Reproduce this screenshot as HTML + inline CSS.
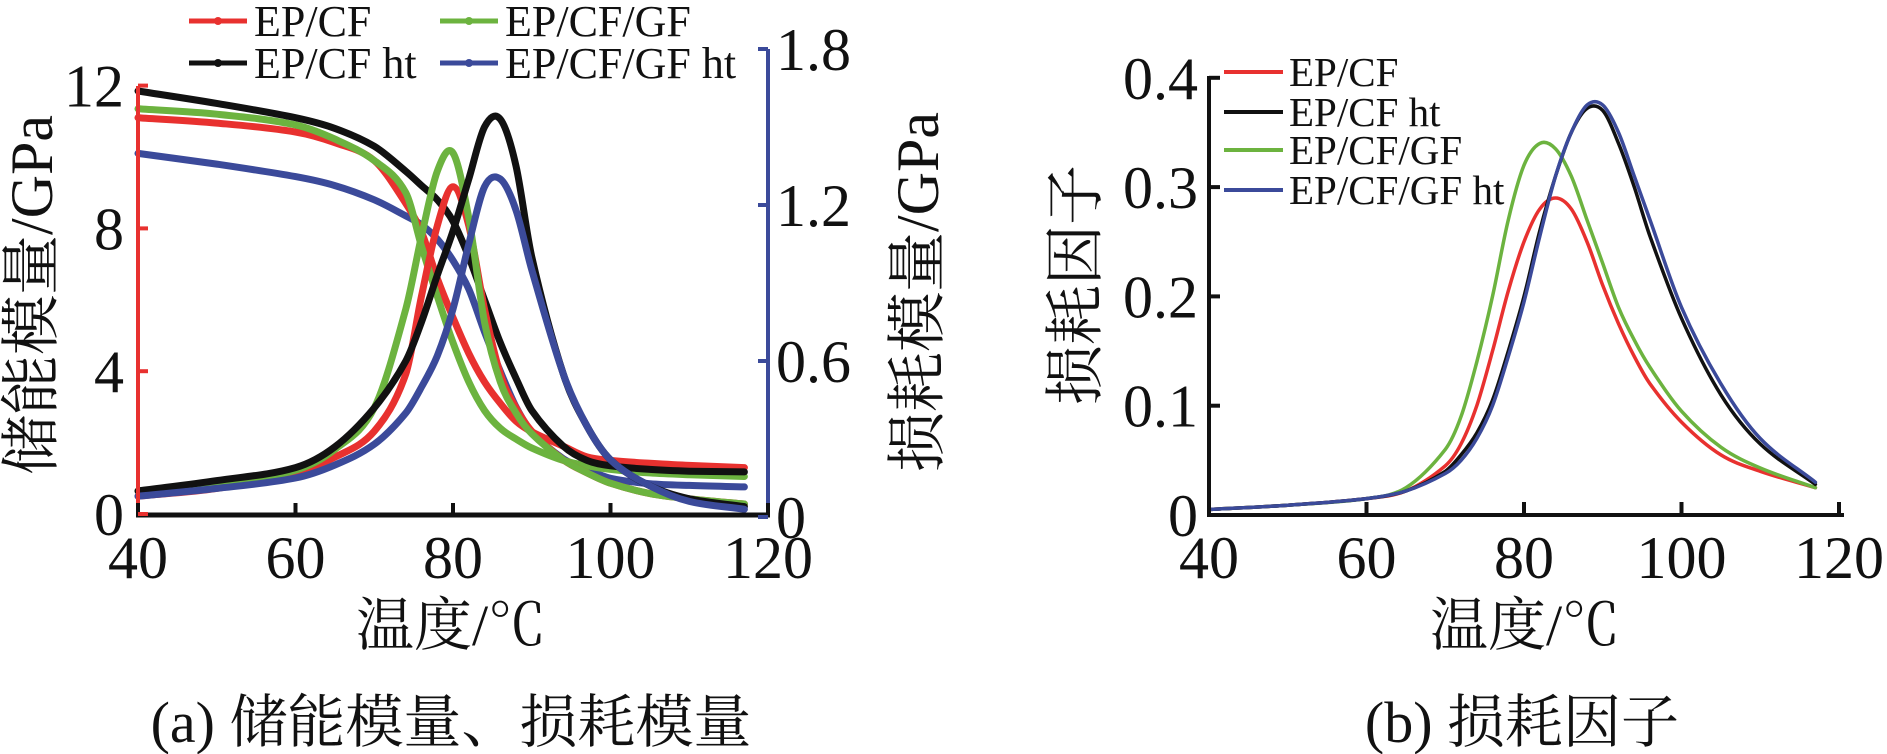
<!DOCTYPE html>
<html><head><meta charset="utf-8">
<style>
html,body{margin:0;padding:0;background:#fff;}
svg{display:block;}
text{font-family:"Liberation Serif","Noto Serif CJK SC",serif;fill:#111;}
</style></head>
<body>
<svg id="chart" width="1887" height="754" viewBox="0 0 1887 754" xmlns="http://www.w3.org/2000/svg"></svg>
<script>
// ---- data ----
const temps = [40,50,60,65,70,74,76,78,80,82,84,86,88,90,94,97,100,105,110,117];
const storageRed   = [11.1,10.95,10.7,10.4,9.9,8.7,7.9,6.6,5.5,4.5,3.7,3.1,2.6,2.3,1.9,1.6,1.5,1.42,1.36,1.3];
const storageGreen = [11.35,11.2,10.9,10.5,9.9,9.0,7.5,6.1,4.8,3.7,2.9,2.4,2.1,1.85,1.5,1.35,1.25,1.15,1.1,1.05];
const storageBlack = [11.85,11.5,11.1,10.8,10.3,9.6,9.2,8.8,8.2,7.2,6.0,4.8,3.8,2.9,1.9,1.5,1.35,1.25,1.2,1.18];
const storageBlue  = [10.1,9.8,9.45,9.2,8.8,8.35,8.1,7.7,7.1,6.3,5.1,4.0,3.0,2.3,1.55,1.25,1.0,0.85,0.8,0.76];
const lossRed   = [0.08,0.11,0.17,0.23,0.33,0.55,0.85,1.12,1.27,1.12,0.8,0.55,0.42,0.33,0.22,0.17,0.13,0.09,0.07,0.05];
const lossGreen = [0.10,0.13,0.18,0.26,0.42,0.8,1.08,1.33,1.40,1.15,0.75,0.52,0.4,0.32,0.22,0.17,0.13,0.09,0.07,0.05];
const lossBlack = [0.10,0.14,0.19,0.27,0.42,0.6,0.75,0.93,1.1,1.3,1.5,1.53,1.35,1.0,0.55,0.35,0.22,0.12,0.07,0.04];
const lossBlue  = [0.08,0.11,0.15,0.2,0.28,0.4,0.5,0.62,0.8,1.05,1.27,1.3,1.18,0.95,0.55,0.35,0.22,0.12,0.06,0.03];
const tanTemps = [40,50,60,65,70,72,74,76,78,80,82,84,86,88,90,92,94,96,100,105,110,117];
const tanRed   = [0.005,0.009,0.015,0.022,0.045,0.065,0.10,0.15,0.205,0.25,0.28,0.29,0.28,0.25,0.21,0.175,0.145,0.12,0.085,0.055,0.04,0.025];
const tanBlack = [0.005,0.009,0.015,0.022,0.04,0.055,0.075,0.105,0.15,0.2,0.26,0.31,0.35,0.372,0.37,0.34,0.3,0.255,0.18,0.11,0.065,0.028];
const tanGreen = [0.005,0.009,0.015,0.025,0.06,0.09,0.14,0.2,0.27,0.32,0.34,0.335,0.31,0.27,0.23,0.19,0.16,0.135,0.095,0.062,0.043,0.025];
const tanBlue  = [0.005,0.009,0.015,0.022,0.038,0.05,0.07,0.1,0.145,0.195,0.255,0.31,0.35,0.375,0.375,0.35,0.31,0.27,0.19,0.12,0.07,0.03];
const xTicks = [40,60,80,100,120];
const leftTicks = [0,4,8,12];
const rightTicks = [0,0.6,1.2,1.8];
const rightTickLabels = ["0","0.6","1.2","1.8"];
const tanTicks = [0,0.1,0.2,0.3,0.4];
const tanTickLabels = ["0","0.1","0.2","0.3","0.4"];
const seriesNames = ["EP/CF","EP/CF ht","EP/CF/GF","EP/CF/GF ht"];
const C = {red:"#e8312f",black:"#111111",green:"#6cb33f",blue:"#3b4a9a"};

// ---- axes ----
const xA = t => 138 + (t-40)*7.875;
const yL = v => 514 - v*35.7;
const yR = v => 517 - v*260;
const xB = t => 1209 + (t-40)*7.875;
const yB = v => 515 - v*1093;

const svg = document.getElementById('chart');
const NS = "http://www.w3.org/2000/svg";
const FONT = '"Liberation Serif","Noto Serif CJK SC",serif';
function mk(tag, attrs, parent){const e=document.createElementNS(NS,tag);for(const k in attrs)e.setAttribute(k,attrs[k]);(parent||svg).appendChild(e);return e;}
function smooth(pts){
 const n=pts.length, m=[];
 for(let i=0;i<n;i++){const a=pts[Math.max(0,i-1)],b=pts[Math.min(n-1,i+1)];m.push((b[1]-a[1])/(b[0]-a[0]));}
 let d=`M${pts[0][0].toFixed(1)},${pts[0][1].toFixed(1)}`;
 for(let i=0;i<n-1;i++){const p1=pts[i],p2=pts[i+1],dx=(p2[0]-p1[0])/3;
  d+=` C${(p1[0]+dx).toFixed(1)},${(p1[1]+m[i]*dx).toFixed(1)} ${(p2[0]-dx).toFixed(1)},${(p2[1]-m[i+1]*dx).toFixed(1)} ${p2[0].toFixed(1)},${p2[1].toFixed(1)}`;}
 return d;}
function line(xs,vals,fx,fy,color,w,name){const p=mk('path',{d:smooth(xs.map((t,i)=>[fx(t),fy(vals[i])])),fill:'none',stroke:color,'stroke-width':w,'stroke-linejoin':'round','stroke-linecap':'round'});
 
 }
function txt(x,y,s,size,anchor,name,extra){const t=mk('text',Object.assign({x:x,y:y,'font-size':size,'text-anchor':anchor||'start','font-family':FONT},extra||{}));t.textContent=s;
 
 return t;}

// ---- panel (a) ----
[[storageBlue,C.blue,'storage-ep-cf-gf-ht'],[storageRed,C.red,'storage-ep-cf'],[storageGreen,C.green,'storage-ep-cf-gf'],[storageBlack,C.black,'storage-ep-cf-ht']]
 .forEach(s=>line(temps,s[0],xA,yL,s[1],7,s[2]));
[[lossRed,C.red,'loss-ep-cf'],[lossGreen,C.green,'loss-ep-cf-gf'],[lossBlack,C.black,'loss-ep-cf-ht'],[lossBlue,C.blue,'loss-ep-cf-gf-ht']]
 .forEach(s=>line(temps,s[0],xA,yR,s[1],7,s[2]));

let e;
e=mk('line',{x1:138,y1:86,x2:138,y2:515,stroke:C.red,'stroke-width':4});


e=mk('line',{x1:768,y1:49,x2:768,y2:517,stroke:C.blue,'stroke-width':4});


e=mk('line',{x1:136,y1:515,x2:770,y2:515,stroke:'#111','stroke-width':5});


xTicks.forEach(t=>{const l=mk('line',{x1:xA(t),y1:515,x2:xA(t),y2:503,stroke:'#111','stroke-width':4});
 
 
 txt(xA(t),578,String(t),60,'middle','x-tick-label-a');});
leftTicks.forEach(v=>{const l=mk('line',{x1:138,y1:yL(v),x2:148,y2:yL(v),stroke:C.red,'stroke-width':4});
 
 
 txt(124,yL(v)+21,String(v),60,'end','left-tick-label');});
rightTicks.forEach((v,i)=>{const l=mk('line',{x1:758,y1:yR(v),x2:768,y2:yR(v),stroke:C.blue,'stroke-width':4});
 
 
 txt(776,yR(v)+21,rightTickLabels[i],60,'start','right-tick-label');});
txt(0,0,"储能模量/GPa",60,'middle','left-y-axis-title',{transform:'translate(52,295) rotate(-90)'});
txt(0,0,"损耗模量/GPa",60,'middle','right-y-axis-title',{transform:'translate(938,292) rotate(-90)'});
txt(451,645,"温度/℃",58,'middle','x-axis-title-a');
txt(451,742,"(a) 储能模量、损耗模量",58,'middle','caption-a');

// legend (a)
const legA=[[189,21,C.red,seriesNames[0]],[189,63,C.black,seriesNames[1]],[440,21,C.green,seriesNames[2]],[440,63,C.blue,seriesNames[3]]];
legA.forEach(L=>{const l=mk('line',{x1:L[0],y1:L[1],x2:L[0]+58,y2:L[1],stroke:L[2],'stroke-width':5});
 
 
 const c=mk('circle',{cx:L[0]+29,cy:L[1],r:4,fill:L[2]});
 
 
 txt(L[0]+65,L[1]+15,L[3],44,'start','legend-entry-a');});

// ---- panel (b) ----
[[tanRed,C.red,'tan-ep-cf'],[tanGreen,C.green,'tan-ep-cf-gf'],[tanBlack,C.black,'tan-ep-cf-ht'],[tanBlue,C.blue,'tan-ep-cf-gf-ht']]
 .forEach(s=>line(tanTemps,s[0],xB,yB,s[1],3.5,s[2]));
e=mk('line',{x1:1209,y1:76,x2:1209,y2:517,stroke:'#111','stroke-width':4});


e=mk('line',{x1:1207,y1:515,x2:1844,y2:515,stroke:'#111','stroke-width':4});


xTicks.forEach(t=>{const l=mk('line',{x1:xB(t),y1:515,x2:xB(t),y2:502,stroke:'#111','stroke-width':4});
 
 
 txt(xB(t),578,String(t),60,'middle','x-tick-label-b');});
tanTicks.forEach((v,i)=>{const l=mk('line',{x1:1209,y1:yB(v),x2:1220,y2:yB(v),stroke:'#111','stroke-width':4});
 
 
 txt(1198,yB(v)+21,tanTickLabels[i],60,'end','y-tick-label-b');});
txt(0,0,"损耗因子",60,'middle','y-axis-title-b',{transform:'translate(1096,285) rotate(-90)'});
txt(1525,645,"温度/℃",58,'middle','x-axis-title-b');
txt(1522,742,"(b) 损耗因子",58,'middle','caption-b');
const legB=[[72,C.red,seriesNames[0]],[112,C.black,seriesNames[1]],[150,C.green,seriesNames[2]],[190,C.blue,seriesNames[3]]];
legB.forEach(L=>{const l=mk('line',{x1:1224,y1:L[0],x2:1283,y2:L[0],stroke:L[1],'stroke-width':4});
 
 
 txt(1289,L[0]+14,L[2],41,'start','legend-entry-b');});
</script>
</body></html>
